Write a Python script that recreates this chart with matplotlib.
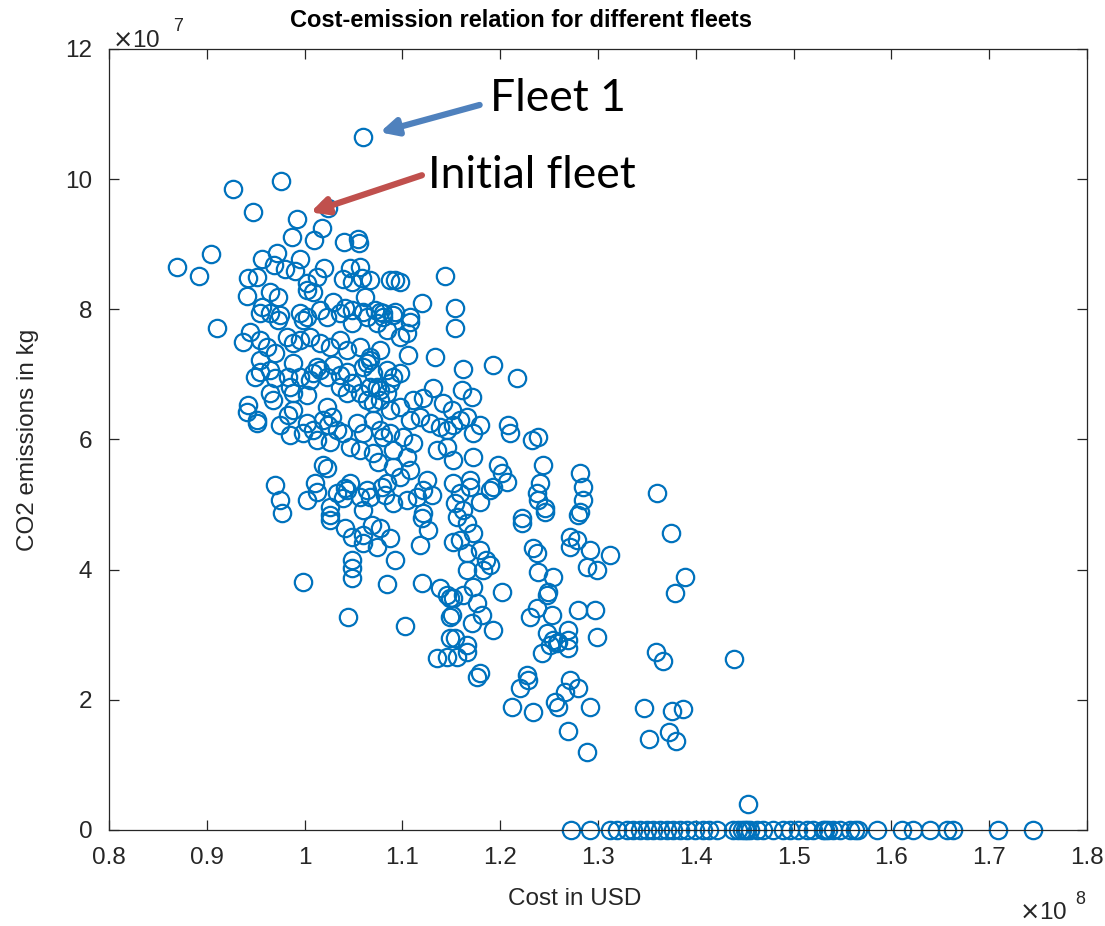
import numpy as np
import matplotlib
matplotlib.use("Agg")
import matplotlib.pyplot as plt

plt.rcParams['font.family'] = ['Liberation Sans', 'DejaVu Sans']

# Cost in units of 1e8 USD, emissions in units of 1e7 kg CO2
upper_pts = [
    (1.060, 10.65), (0.927, 9.85), (0.976, 9.97), (0.947, 9.49), (0.992, 9.39), (1.024, 9.56),
    (1.018, 9.25), (0.987, 9.11), (1.010, 9.07), (1.040, 9.03), (1.055, 9.08), (1.056, 9.02),
    (0.904, 8.85), (0.870, 8.65), (0.892, 8.51), (0.956, 8.77), (0.972, 8.87), (0.969, 8.68),
    (0.980, 8.62), (0.995, 8.77), (0.990, 8.59), (1.020, 8.64), (1.013, 8.50), (1.003, 8.40),
    (1.009, 8.27), (1.002, 8.30), (0.942, 8.48), (0.951, 8.50), (0.941, 8.21), (0.965, 8.27),
    (0.973, 8.19), (0.956, 8.04), (1.039, 8.47), (1.046, 8.64), (1.057, 8.65), (1.048, 8.42),
    (1.059, 8.48), (1.067, 8.45), (1.087, 8.45), (1.029, 8.11), (1.041, 8.02), (1.049, 7.99),
    (1.060, 7.96), (1.072, 7.99), (1.062, 8.19), (0.965, 7.94), (0.975, 7.91), (0.995, 7.94),
    (1.002, 7.88), (1.016, 7.99),
    (1.092, 8.45), (1.098, 8.42), (1.144, 8.51), (1.120, 8.10), (1.077, 7.96), (1.092, 7.96),
    (1.108, 7.88), (1.154, 8.02),
]

left_pts = [
    (0.910, 7.71), (0.937, 7.50), (0.944, 7.65), (0.949, 6.96), (0.954, 7.04), (0.965, 7.07),
    (0.970, 6.95), (0.942, 6.53), (0.941, 6.42), (0.951, 6.25), (0.951, 6.30), (0.968, 6.61),
    (0.965, 6.71), (0.983, 6.96), (0.985, 6.81), (0.988, 6.71), (1.002, 6.68), (0.983, 6.38),
    (0.988, 6.45), (1.002, 6.25), (1.009, 6.15), (0.998, 6.10), (1.013, 5.99), (1.023, 6.50),
    (1.028, 6.35), (1.019, 6.30), (1.024, 6.22), (1.033, 6.15), (1.039, 6.10), (1.026, 5.96),
    (1.013, 7.11), (1.009, 7.02), (1.029, 7.15), (1.036, 6.99), (1.043, 7.04), (1.049, 6.87),
    (1.060, 7.11), (1.067, 7.22), (1.064, 7.18), (1.070, 7.02), (1.074, 6.81), (1.077, 6.76),
    (1.064, 6.61), (1.070, 6.56), (1.054, 6.25), (1.060, 6.10), (1.046, 5.89), (1.057, 5.84),
    (1.070, 6.30), (1.077, 6.15), (1.080, 6.04), (1.070, 5.79), (1.075, 5.65), (1.019, 5.61),
    (1.023, 5.56), (0.970, 5.30), (0.975, 5.07), (0.977, 4.87), (1.011, 5.33), (1.013, 5.19),
    (1.003, 5.07), (1.026, 4.96), (1.033, 5.18), (1.041, 5.26), (1.043, 5.22), (1.046, 5.33),
    (1.039, 5.10), (1.057, 5.12), (1.064, 5.22), (1.067, 5.12), (1.060, 4.92), (1.079, 5.27),
    (1.082, 5.15),
    (0.954, 7.94), (0.973, 7.84), (0.998, 7.84), (1.023, 7.88), (1.036, 7.94), (1.049, 7.79),
    (1.064, 7.88), (1.074, 7.79), (1.080, 7.94), (0.954, 7.53), (0.962, 7.42), (0.970, 7.33),
    (0.982, 7.58), (0.988, 7.48), (0.995, 7.53), (1.006, 7.58), (1.016, 7.48), (1.026, 7.42),
    (1.036, 7.53), (1.043, 7.38), (1.057, 7.42), (1.067, 7.27), (1.077, 7.38),
    (0.954, 7.22), (0.988, 7.18), (0.995, 6.96), (1.006, 6.91), (1.016, 7.07), (1.023, 6.96),
    (1.036, 6.81), (1.043, 6.71), (1.057, 6.71), (1.067, 6.81), (1.077, 6.61), (1.084, 6.71),
    (0.975, 6.22), (0.985, 6.07),
]

middle_pts = [
    (1.080, 7.88), (1.090, 7.91), (1.108, 7.81), (1.084, 7.68), (1.098, 7.58), (1.105, 7.64),
    (1.154, 7.71), (1.106, 7.30), (1.133, 7.27), (1.162, 7.08), (1.193, 7.15), (1.217, 6.95),
    (1.084, 7.07), (1.090, 6.96), (1.098, 7.02), (1.087, 6.87), (1.131, 6.79), (1.121, 6.64),
    (1.111, 6.61), (1.161, 6.76), (1.171, 6.65), (1.142, 6.56), (1.151, 6.45), (1.098, 6.50),
    (1.087, 6.45), (1.108, 6.30), (1.118, 6.35), (1.128, 6.25), (1.138, 6.19), (1.146, 6.15),
    (1.152, 6.22), (1.159, 6.30), (1.166, 6.35), (1.179, 6.22), (1.208, 6.22), (1.210, 6.10),
    (1.233, 5.99), (1.239, 6.04), (1.172, 6.10), (1.087, 6.10), (1.101, 6.04), (1.111, 5.95),
    (1.090, 5.84), (1.105, 5.73), (1.135, 5.84), (1.146, 5.89), (1.152, 5.69), (1.172, 5.73),
    (1.198, 5.61), (1.202, 5.49), (1.207, 5.35), (1.244, 5.61), (1.282, 5.49), (1.285, 5.27),
    (1.285, 5.07), (1.282, 4.89), (1.241, 5.33), (1.238, 5.18), (1.239, 5.07), (1.246, 4.95),
    (1.090, 5.58), (1.108, 5.53), (1.098, 5.42), (1.084, 5.33), (1.125, 5.38), (1.121, 5.22),
    (1.130, 5.15), (1.152, 5.33), (1.159, 5.18), (1.154, 5.02), (1.162, 4.92), (1.169, 5.38),
    (1.169, 5.27), (1.193, 5.27), (1.190, 5.22), (1.179, 5.04), (1.222, 4.79), (1.105, 5.07),
    (1.115, 5.12), (1.090, 5.02), (1.121, 4.87),
]

lower_pts = [
    (1.026, 4.84), (1.026, 4.76), (1.041, 4.64), (1.049, 4.50), (1.060, 4.53), (1.069, 4.69),
    (1.077, 4.64), (1.087, 4.49), (1.074, 4.35), (1.060, 4.41), (1.049, 4.15), (1.048, 4.03),
    (1.049, 3.87), (1.092, 4.15), (1.120, 4.79), (1.126, 4.61), (1.118, 4.38), (0.998, 3.81),
    (1.084, 3.78), (1.120, 3.80), (1.138, 3.72), (1.146, 3.61), (1.149, 3.56), (1.044, 3.27),
    (1.103, 3.13), (1.135, 2.64), (1.146, 2.66), (1.149, 3.27), (1.149, 2.95),
    (1.222, 4.72), (1.246, 4.89), (1.280, 4.84), (1.156, 4.81), (1.166, 4.72), (1.172, 4.56),
    (1.159, 4.46), (1.152, 4.43), (1.179, 4.30), (1.166, 4.26), (1.186, 4.15), (1.190, 4.07),
    (1.182, 4.00), (1.166, 4.00), (1.234, 4.33), (1.238, 4.26), (1.239, 3.96), (1.254, 3.89),
    (1.249, 3.66), (1.248, 3.61), (1.202, 3.66), (1.172, 3.73), (1.152, 3.56), (1.162, 3.61),
    (1.176, 3.49), (1.151, 3.30), (1.181, 3.30), (1.171, 3.18), (1.193, 3.07), (1.230, 3.27),
    (1.238, 3.41), (1.253, 3.30), (1.280, 3.38), (1.297, 3.38), (1.271, 4.50), (1.279, 4.46),
    (1.271, 4.35), (1.292, 4.30), (1.312, 4.23), (1.289, 4.04), (1.299, 4.00), (1.248, 3.03),
    (1.254, 2.92), (1.259, 2.89), (1.269, 3.07), (1.269, 2.92), (1.243, 2.72), (1.269, 2.80),
    (1.299, 2.97), (1.154, 2.95), (1.166, 2.84), (1.156, 2.66), (1.166, 2.74), (1.179, 2.41),
    (1.176, 2.35), (1.227, 2.38), (1.228, 2.30), (1.220, 2.18), (1.271, 2.30), (1.280, 2.18),
    (1.266, 2.12), (1.256, 1.97), (1.259, 1.89), (1.212, 1.89), (1.234, 1.81), (1.292, 1.89),
    (1.347, 1.87), (1.269, 1.52), (1.289, 1.20), (1.251, 2.84), (1.258, 2.87),
]

right_pts = [
    (1.360, 5.18), (1.375, 4.56), (1.389, 3.89), (1.379, 3.64), (1.359, 2.74), (1.367, 2.60),
    (1.439, 2.63), (1.376, 1.83), (1.387, 1.86), (1.352, 1.40), (1.373, 1.51), (1.380, 1.37),
    (1.453, 0.40),
]

zero_emission_cost = [
    1.272, 1.292, 1.312, 1.319, 1.330, 1.336, 1.343, 1.350, 1.356, 1.363, 1.371, 1.377,
    1.384, 1.391, 1.399, 1.407, 1.414, 1.422, 1.438, 1.443, 1.447, 1.450, 1.452, 1.455,
    1.463, 1.469, 1.479, 1.489, 1.496, 1.505, 1.514, 1.520, 1.530, 1.532, 1.535, 1.540,
    1.547, 1.558, 1.563, 1.566, 1.585, 1.611, 1.622, 1.639, 1.657, 1.663, 1.709, 1.745,
]

xticks = [0.8, 0.9, 1.0, 1.1, 1.2, 1.3, 1.4, 1.5, 1.6, 1.7, 1.8]
xtick_labels = ['0.8', '0.9', '1', '1.1', '1.2', '1.3', '1.4', '1.5', '1.6', '1.7', '1.8']
yticks = [0, 2, 4, 6, 8, 10, 12]
ytick_labels = ['0', '2', '4', '6', '8', '10', '12']

all_pts = upper_pts + left_pts + middle_pts + lower_pts + right_pts
cost = np.array([p[0] for p in all_pts] + zero_emission_cost)
emis = np.array([p[1] for p in all_pts] + [0.0] * len(zero_emission_cost))

fig = plt.figure(figsize=(11.05, 9.26), dpi=100)
ax = fig.add_axes([0.0986, 0.1037, 0.8851, 0.8434])

ax.plot(cost, emis, linestyle='none', marker='o', markersize=12.5,
        markerfacecolor='none', markeredgecolor='#0072BD', markeredgewidth=1.6,
        clip_on=False)

ax.set_xlim(0.8, 1.8)
ax.set_ylim(0, 12)
ax.set_xticks(xticks)
ax.set_xticklabels(xtick_labels)
ax.set_yticks(yticks)
ax.set_yticklabels(ytick_labels)

tick_col = '#262626'
ax.tick_params(axis='both', which='both', direction='in', length=7, width=0.9,
               top=True, right=True, labelsize=17.5, colors=tick_col)
ax.tick_params(axis='x', pad=12)
ax.tick_params(axis='y', pad=12)
for s in ax.spines.values():
    s.set_color(tick_col)
    s.set_linewidth(0.9)

ax.set_xlabel('Cost in USD', fontsize=17.5, color=tick_col, labelpad=14)
ax.xaxis.label.set_x(0.4765)
ax.set_ylabel('CO2 emissions in kg', fontsize=17.5, color=tick_col, labelpad=19)

# exponent multipliers
fig.text(0.101, 0.944, r'$\times$10', fontsize=17.5, color=tick_col, ha='left', va='bottom')
fig.text(0.157, 0.962, '7', fontsize=13, color=tick_col, ha='left', va='bottom')
fig.text(0.922, 0.002, r'$\times$10', fontsize=17.5, color=tick_col, ha='left', va='bottom')
fig.text(0.973, 0.019, '8', fontsize=13, color=tick_col, ha='left', va='bottom')

fig.text(0.4715, 0.978, 'Cost-emission relation for different fleets', fontsize=17,
         fontweight='bold', ha='center', va='center', color='black')

# annotations
ax.annotate('', xy=(1.077, 10.72), xytext=(1.179, 11.14),
            arrowprops=dict(arrowstyle='-|>,head_length=1.0,head_width=0.5',
                            color='#4F81BD', lw=4.5, shrinkA=0, shrinkB=0))
ax.annotate('', xy=(1.006, 9.49), xytext=(1.120, 10.06),
            arrowprops=dict(arrowstyle='-|>,head_length=1.0,head_width=0.5',
                            color='#C0504D', lw=4.5, shrinkA=0, shrinkB=0))
ax.text(1.190, 11.24, 'Fleet 1', fontsize=32, family=['Lato', 'DejaVu Sans'],
        ha='left', va='center', color='black')
ax.text(1.126, 10.05, 'Initial fleet', fontsize=32, family=['Lato', 'DejaVu Sans'],
        ha='left', va='center', color='black')

fig.savefig('out.png', dpi=100)
